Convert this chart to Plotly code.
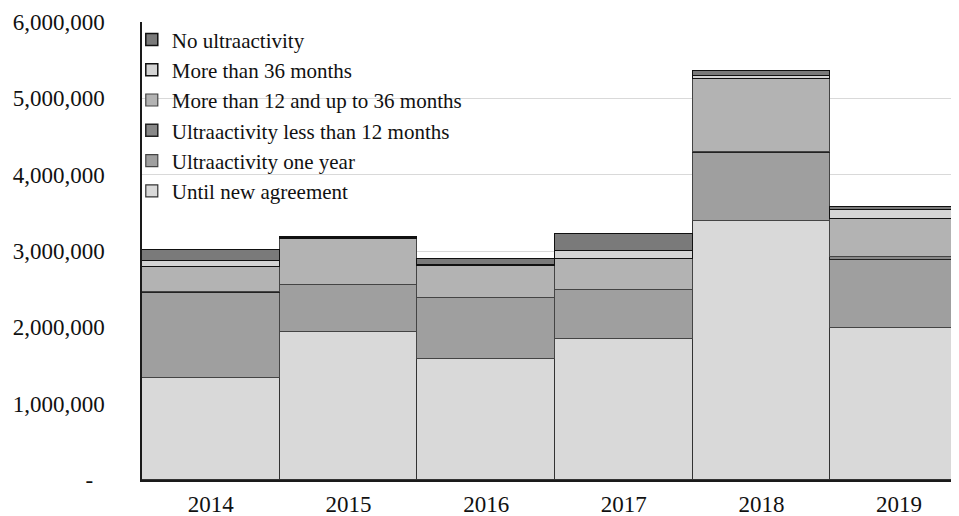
import plotly.graph_objects as go

years = ["2014", "2015", "2016", "2017", "2018", "2019"]
until_new_agreement = [1336000, 1940000, 1588000, 1847000, 3396000, 1993000]
ultra_one_year = [1111000, 609000, 802000, 637000, 894000, 889000]
ultra_less_12 = [10000, 0, 0, 0, 10000, 40000]
more_12_to_36 = [334000, 611000, 418000, 415000, 948000, 497000]
more_36 = [78000, 10000, 10000, 107000, 46000, 118000]
no_ultra = [150000, 10000, 74000, 216000, 59000, 35000]

y_tickvals = [0, 1000000, 2000000, 3000000, 4000000, 5000000, 6000000]
y_ticktext = ["-\u00a0\u00a0", "1,000,000", "2,000,000", "3,000,000", "4,000,000", "5,000,000", "6,000,000"]

series = [
    ("Until new agreement", until_new_agreement, "#d9d9d9", "#333333", 1.2),
    ("Ultraactivity one year", ultra_one_year, "#9f9f9f", "#444444", 1.2),
    ("Ultraactivity less than 12 months", ultra_less_12, "#888888", "#222222", 1.5),
    ("More than 12 and up to 36 months", more_12_to_36, "#b3b3b3", "#444444", 1.2),
    ("More than 36 months", more_36, "#d4d4d4", "#111111", 1.5),
    ("No ultraactivity", no_ultra, "#7a7a7a", "#111111", 1.5),
]

fig = go.Figure()
for name, vals, fill, line, lw in series:
    fig.add_trace(go.Bar(
        x=years, y=vals, name=name,
        marker=dict(color=fill, line=dict(color=line, width=lw)),
    ))

font = "Liberation Serif, Times New Roman, serif"
# page body has an 8px margin, so the figure is sized/offset to compensate
fig.update_layout(
    width=951, height=508,
    barmode="stack", bargap=0,
    plot_bgcolor="white", paper_bgcolor="white",
    margin=dict(l=134, r=0, t=14, b=35.5, autoexpand=False),
    font=dict(family=font, size=22, color="#111111"),
    legend=dict(
        x=-0.0125, y=1.006, xanchor="left", yanchor="top",
        traceorder="reversed",
        bgcolor="rgba(0,0,0,0)",
        font=dict(family=font, size=21, color="#111111"),
        tracegroupgap=0,
    ),
    xaxis=dict(
        range=[-0.5, 5.435],
        automargin=False,
        showline=True, linecolor="#1a1a1a", linewidth=2,
        ticks="", ticklabelstandoff=2,
        tickfont=dict(family=font, size=23),
        showgrid=False,
    ),
    yaxis=dict(
        range=[0, 6000000],
        automargin=False,
        tickvals=y_tickvals, ticktext=y_ticktext,
        showgrid=True, gridcolor="#d9d9d9", gridwidth=1,
        showline=True, linecolor="#1a1a1a", linewidth=1.5,
        ticks="", ticklabelstandoff=31,
        tickfont=dict(family=font, size=23),
        zeroline=False,
    ),
)

fig.write_html("out.html")
